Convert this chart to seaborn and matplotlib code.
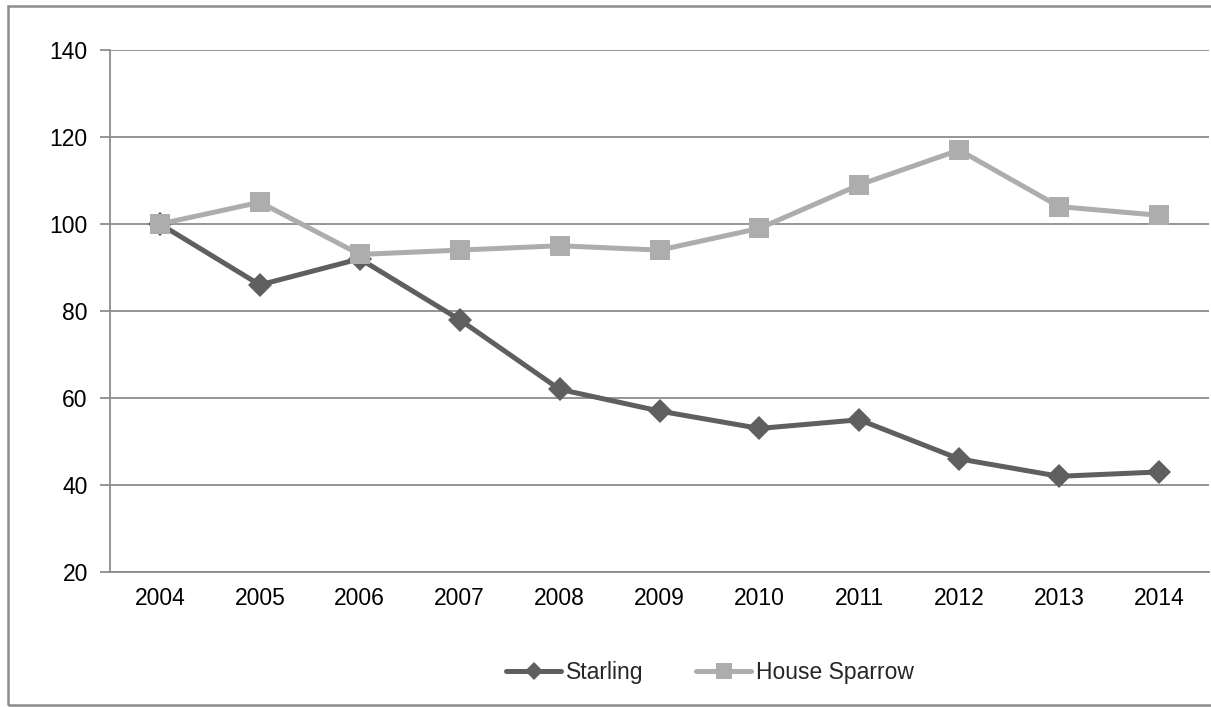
import matplotlib
matplotlib.use("Agg")
import matplotlib.pyplot as plt
import numpy as np
import pandas as pd
import seaborn as sns
from matplotlib.patches import Rectangle

years = ["2004", "2005", "2006", "2007", "2008", "2009", "2010", "2011", "2012", "2013", "2014"]
starling = [100, 86, 92, 78, 62, 57, 53, 55, 46, 42, 43]
house_sparrow = [100, 105, 93, 94, 95, 94, 99, 109, 117, 104, 102]
y_ticks = [20, 40, 60, 80, 100, 120, 140]

df = pd.DataFrame({
    "year": years * 2,
    "index": starling + house_sparrow,
    "species": ["Starling"] * len(years) + ["House Sparrow"] * len(years),
})

sns.set_theme(style="white")
plt.rcParams["font.family"] = ["Liberation Sans", "DejaVu Sans"]

GRID = "#8c8c8c"
FS = 16.5
fig = plt.figure(figsize=(12.11, 7.07), dpi=100)
ax = fig.add_axes([110 / 1211, (707 - 572) / 707, 1099 / 1211, 522 / 707])

sns.lineplot(
    data=df, x="year", y="index", hue="species", style="species",
    palette={"Starling": "#5f5f5f", "House Sparrow": "#adadad"},
    markers={"Starling": "D", "House Sparrow": "s"}, dashes=False,
    linewidth=3.6, markersize=12, markeredgewidth=0, ax=ax, legend=False,
    sort=False,
)
# square markers are drawn a bit bigger in the original
for line in ax.get_lines():
    if line.get_marker() == "s":
        line.set_markersize(14)
    line.set_zorder(3)

ax.set_xlim(-0.5, len(years) - 0.5)
ax.set_ylim(20, 140)
ax.set_yticks(y_ticks)
ax.yaxis.grid(True, color=GRID, linewidth=1.3)
ax.set_axisbelow(True)
ax.set_xlabel("")
ax.set_ylabel("")

ax.set_xticks(range(len(years)))
ax.set_xticklabels(years)
ax.set_xticks(np.arange(-0.5, len(years)), minor=True)
ax.tick_params(axis="x", which="major", length=0, pad=11, labelsize=FS, colors="black")
ax.tick_params(axis="x", which="minor", length=7, width=1.3, color=GRID, direction="out")
ax.tick_params(axis="y", length=7, width=1.3, color=GRID, direction="out", pad=9,
               labelsize=FS, labelcolor="black", left=True)

for side in ["top", "right"]:
    ax.spines[side].set_visible(False)
for side in ["left", "bottom"]:
    ax.spines[side].set_color(GRID)
    ax.spines[side].set_linewidth(1.3)

handles = [
    plt.Line2D([], [], color="#5f5f5f", lw=3.6, marker="D", ms=9, mew=0),
    plt.Line2D([], [], color="#adadad", lw=3.6, marker="s", ms=11, mew=0),
]
fig.legend(handles, ["Starling", "House Sparrow"], loc="center", bbox_to_anchor=(710 / 1211, 1 - 673 / 707),
           ncol=2, frameon=False, fontsize=FS, handlelength=2.4, handletextpad=0.2, columnspacing=2.3)

fig.patches.append(Rectangle((8 / 1211, 2 / 707), 1.0, 699 / 707, transform=fig.transFigure,
                             fill=False, edgecolor="#8c8c8c", linewidth=1.8))

fig.savefig("out.png", dpi=100)
